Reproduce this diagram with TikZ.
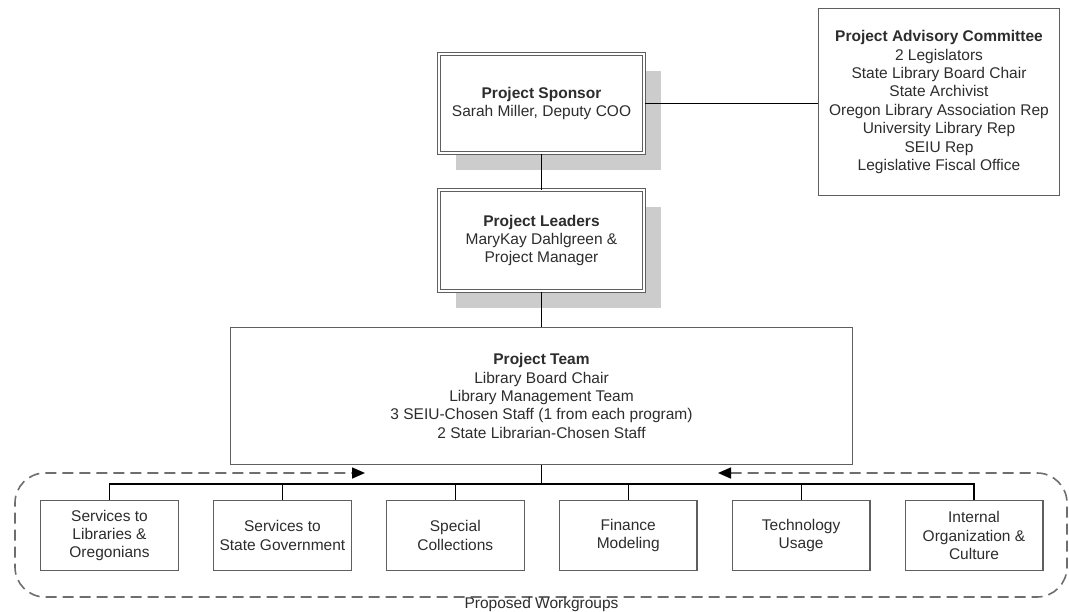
\documentclass[tikz,border=0pt]{standalone}
\usepackage{fontspec}
\setmainfont{Liberation Sans}
\usepackage{tikz}
\usetikzlibrary{arrows.meta,positioning,shadows}

\definecolor{boxline}{RGB}{95,95,95}
\definecolor{shadowgray}{RGB}{204,204,204}
\definecolor{dashgray}{RGB}{110,110,110}
\definecolor{textgray}{RGB}{45,45,45}

\begin{document}
\begin{tikzpicture}[x=1pt, y=-1pt,
    every node/.style={font=\fontsize{15.5}{18.4}\selectfont, text=textgray, align=center},
    leadbox/.style={draw=boxline, line width=1pt, double=white, double distance=2.2pt,
      fill=white, minimum width=205pt, minimum height=#1,
      general shadow={fill=shadowgray, shadow xshift=17pt, shadow yshift=-17pt}},
    plainbox/.style={draw=boxline, line width=1.3pt, fill=white},
    groupbox/.style={plainbox, minimum width=137.7pt, minimum height=69.7pt, inner sep=2pt},
    link/.style={line width=1.2pt, black}]
  \useasboundingbox (0,0) rectangle (1069,611);

  % Proposed workgroups frame
  \coordinate (frameR) at (718,473);
  \coordinate (frameL) at (365,473);
  \draw[dashgray, line width=1.6pt, dash pattern=on 11pt off 6pt, rounded corners=30pt,
        {Triangle[length=13pt,width=11pt,black]}-{Triangle[length=13pt,width=11pt,black]}]
    (frameR) -- (1067,473) -- (1067,597) -- (15,597) -- (15,473) -- (frameL);
  \node[inner sep=0pt] (wglabel) at (541.5,604.5) {Proposed Workgroups};

  % Leadership
  \node[leadbox=99pt] (sponsor) at (541.5,103.5)
    {\textbf{Project Sponsor}\\Sarah Miller, Deputy COO};
  \node[leadbox=101pt] (leaders) at (541.5,240.5)
    {\textbf{Project Leaders}\\MaryKay Dahlgreen \&\\Project Manager};
  \node[plainbox, minimum width=241pt, minimum height=187pt] (advisory) at (939,102)
    {\textbf{Project Advisory Committee}\\2 Legislators\\State Library Board Chair\\
     State Archivist\\Oregon Library Association Rep\\University Library Rep\\
     SEIU Rep\\Legislative Fiscal Office};
  \node[plainbox, minimum width=622pt, minimum height=137pt] (team) at (541.5,396)
    {\textbf{Project Team}\\Library Board Chair\\Library Management Team\\
     3 SEIU-Chosen Staff (1 from each program)\\2 State Librarian-Chosen Staff};

  % Workgroups
  \foreach \n/\txt [count=\i from 0] in {
      wg1/{Services to\\Libraries \&\\Oregonians},
      wg2/{Services to\\State Government},
      wg3/{Special\\Collections},
      wg4/{Finance\\Modeling},
      wg5/{Technology\\Usage},
      wg6/{Internal\\Organization \&\\Culture}}
    \node[groupbox] (\n) at (109.5+\i*172.9,535.5) {\txt};

  % Connectors
  \draw[link] (sponsor) -- (leaders);
  \draw[link] (leaders) -- (team);
  \draw[link] (sponsor.east) -- (sponsor.east -| advisory.west);
  \coordinate (bus) at (541.5,484);
  \draw[link] (team.south) -- (bus);
  \draw[link] (wg1.north) |- (bus) -| (wg6.north);
  \foreach \n in {wg2,wg3,wg4,wg5}
    \draw[link] (\n.north) -- (\n.north |- bus);
\end{tikzpicture}
\end{document}
